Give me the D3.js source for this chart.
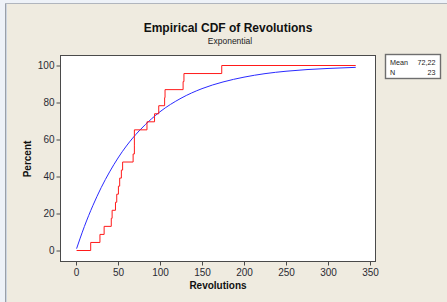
<!DOCTYPE html>
<html>
<head>
<meta charset="utf-8">
<script src="https://cdn.jsdelivr.net/npm/d3@7"></script>
<style>
  html,body{margin:0;padding:0;background:#eef2f8;}
  svg{display:block;}
  text{font-family:"Liberation Sans",Arial,sans-serif;}
</style>
</head>
<body>
<svg id="chart" width="447" height="302"></svg>
<script>
// observed revolutions (23 values)
const revolutions = [17.5, 28.5, 33.5, 42, 43, 47, 48.5, 50.5, 52, 54, 55.5, 68, 69.5, 69.5, 69.5,
                     84.5, 93.5, 98.5, 105.5, 106, 127.5, 128.5, 173.5];
// fitted exponential CDF
const fitX = [0.7, 5, 10, 20, 30, 40, 50, 60, 75, 90, 100, 125, 150, 175, 200, 225, 250, 275, 300, 333];
const fitP = [1, 6.7, 13, 24.2, 34, 42.5, 50, 56.5, 64.6, 71.2, 75, 82.3, 87.5, 91.1, 93.7, 95.6, 96.9, 97.8, 98.4, 99];
const xTicks = [0, 50, 100, 150, 200, 250, 300, 350];
const yTicks = [0, 20, 40, 60, 80, 100];
const statLabels = ['Mean', 'N'];
const statValues = ['72,22', '23'];

const svg = d3.select('#chart');
const W = 447, H = 302;

// window frame + beige panel
svg.append('rect').attr('width', W).attr('height', H).attr('fill', '#eef2f8');
svg.append('rect').attr('x', 6).attr('y', 4).attr('width', W - 6).attr('height', H - 4).attr('fill', '#efebe0');
svg.append('line').attr('x1', 5.5).attr('x2', 5.5).attr('y1', 3).attr('y2', H).attr('stroke', '#9aa0a8');
svg.append('line').attr('x1', 6.5).attr('x2', 6.5).attr('y1', 4).attr('y2', H).attr('stroke', '#cdd5e0');
svg.append('line').attr('x1', 5).attr('x2', W).attr('y1', 3.5).attr('y2', 3.5).attr('stroke', '#b0b5bd');

const x = d3.scaleLinear().domain([0, 350]).range([76, 370]);
const y = d3.scaleLinear().domain([0, 100]).range([250.5, 65.5]);

// plot area
svg.append('rect').attr('x', 60.5).attr('y', 55.5).attr('width', 315).attr('height', 206)
  .attr('fill', '#fff').attr('stroke', '#4a4a4a');

// axes
const gy = svg.append('g').attr('transform', 'translate(60.5,0)')
  .call(d3.axisLeft(y).tickValues(yTicks).tickSize(4).tickPadding(2));
const gx = svg.append('g').attr('transform', 'translate(0,261.5)')
  .call(d3.axisBottom(x).tickValues(xTicks).tickSize(4).tickPadding(3));
[gx, gy].forEach(g => {
  g.select('.domain').remove();
  g.selectAll('line').attr('stroke', '#4a4a4a');
  g.selectAll('text').attr('font-size', '10px').attr('fill', '#2a2a33')
    .attr('font-family', '"Liberation Sans",Arial,sans-serif');
});

// fitted curve
const fitData = fitX.map((v, i) => [v, fitP[i]]);
svg.append('path').datum(fitData)
  .attr('fill', 'none').attr('stroke', '#2a2aff').attr('stroke-width', 1)
  .attr('d', d3.line().x(d => x(d[0])).y(d => y(d[1])).curve(d3.curveMonotoneX));

// empirical CDF as steps
const sorted = revolutions.slice().sort(d3.ascending);
const n = sorted.length;
const ecdf = [[fitX[0], 0]];
sorted.forEach((v, i) => ecdf.push([v, (i + 1) / n * 100]));
ecdf.push([fitX[fitX.length - 1], 100]);
svg.append('path').datum(ecdf)
  .attr('fill', 'none').attr('stroke', '#ff1a1a').attr('stroke-width', 1)
  .attr('d', d3.line().x(d => x(d[0])).y(d => y(d[1])).curve(d3.curveStepAfter));

// titles
svg.append('text').attr('x', 228).attr('y', 32).attr('text-anchor', 'middle')
  .attr('font-size', '12px').attr('font-weight', 'bold').attr('fill', '#111')
  .text('Empirical CDF of Revolutions');
svg.append('text').attr('x', 230).attr('y', 43.5).attr('text-anchor', 'middle')
  .attr('font-size', '8.5px').attr('fill', '#222')
  .text('Exponential');
svg.append('text').attr('x', 218).attr('y', 289).attr('text-anchor', 'middle')
  .attr('font-size', '10px').attr('font-weight', 'bold').attr('fill', '#111')
  .text('Revolutions');
svg.append('text').attr('transform', 'translate(30.5,159) rotate(-90)').attr('text-anchor', 'middle')
  .attr('font-size', '10px').attr('font-weight', 'bold').attr('fill', '#111')
  .text('Percent');

// stats box
const box = svg.append('g');
box.append('rect').attr('x', 385.5).attr('y', 54.5).attr('width', 55).attr('height', 24)
  .attr('fill', '#fff').attr('stroke', '#6e6e6e').attr('stroke-width', 1.4);
statLabels.forEach((lab, i) => {
  box.append('text').attr('x', 390).attr('y', 65 + i * 10).attr('font-size', '7.2px').attr('fill', '#222').text(lab);
  box.append('text').attr('x', 435.5).attr('y', 65 + i * 10).attr('text-anchor', 'end')
    .attr('font-size', '7.2px').attr('fill', '#222').text(statValues[i]);
});
</script>
</body>
</html>
